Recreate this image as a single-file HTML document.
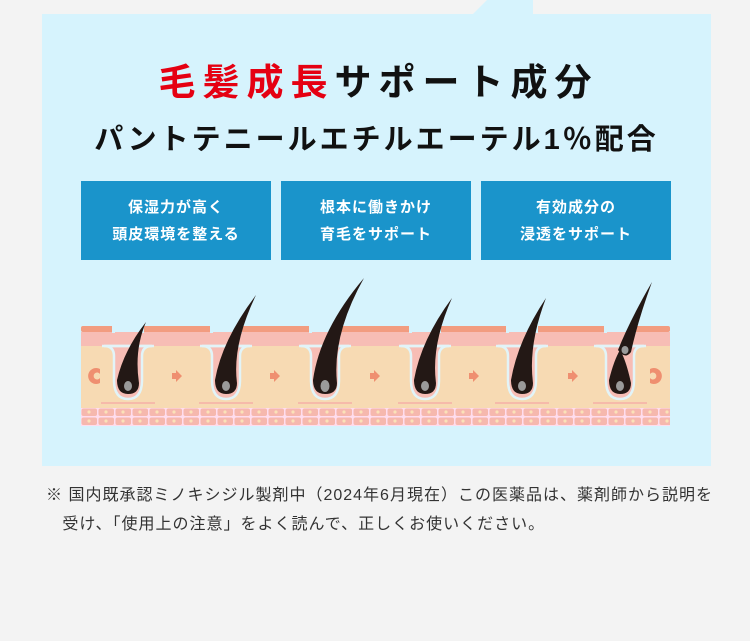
<!DOCTYPE html><html><head><meta charset="utf-8"><style>
body{margin:0;width:750px;height:641px;background:#f3f3f3;position:relative;overflow:hidden;font-family:"Liberation Sans","Noto Sans CJK JP",sans-serif}
.panel{position:absolute;left:42px;top:14px;width:669px;height:452px;background:#d6f3fd}
.tab{position:absolute;left:0;top:0}
.t1{position:absolute;left:0;width:750px;top:52px;text-align:center;font-size:37px;font-weight:bold;letter-spacing:7px;text-indent:7px;color:#111}
.t1 span{color:#e50012}
.t2{position:absolute;left:0;width:750px;top:116px;text-align:center;font-size:29px;font-weight:bold;color:#111;letter-spacing:3px;text-indent:3px}
.b{position:absolute;top:181px;width:190px;height:79px;background:#1a94cb;color:#fff;font-size:15px;font-weight:bold;line-height:27px;text-align:center;padding-top:13px;box-sizing:border-box;letter-spacing:1px}
.n{position:absolute;left:46px;top:481px;font-size:16px;color:#333;line-height:29px;letter-spacing:1px;white-space:nowrap}
</style></head><body>
<svg class="tab" width="750" height="20"><polygon points="473,14 487,0 533,0 533,14" fill="#d6f3fd"/></svg>
<div class="panel"></div>
<div class="t1"><span>毛髪成長</span>サポート成分</div>
<div class="t2">パントテニールエチルエーテル1％配合</div>
<div class="b" style="left:81px">保湿力が高く<br>頭皮環境を整える</div>
<div class="b" style="left:281px">根本に働きかけ<br>育毛をサポート</div>
<div class="b" style="left:481px">有効成分の<br>浸透をサポート</div>
<svg style="position:absolute;left:0;top:0" width="750" height="641">
<defs>
<pattern id="c" x="81" y="408" width="17" height="9" patternUnits="userSpaceOnUse"><rect width="17" height="9" fill="#fde"/><rect x="0.5" y="0.5" width="15.5" height="7.5" rx="2" fill="#f6b8ae"/><circle cx="8" cy="4" r="1.6" fill="#fbe2b8"/></pattern>
<g id="f">
<rect x="-16" y="324" width="32" height="9" fill="#d6f3fd"/>
<rect x="-13" y="332" width="26" height="14" fill="#f7bdb5"/>
<path d="M-24 346 Q-14 346 -14 356 L-14 380 Q-14 399 0 399 Q14 399 14 380 L14 356 Q14 346 24 346 Z" fill="#f7bdb5" stroke="#e2f4f8" stroke-width="2.5"/>
<line x1="-26" y1="346" x2="26" y2="346" stroke="#e2f4f8" stroke-width="2.5"/>
<line x1="-27" y1="403" x2="27" y2="403" stroke="#f5b0a8" stroke-width="1.5"/>
</g>
</defs>
<rect x="81" y="326" width="589" height="6" rx="2" fill="#f29c80"/>
<rect x="81" y="332" width="589" height="14" fill="#f7bdb5"/>
<rect x="81" y="346" width="589" height="62" fill="#f7dab3"/>
<rect x="81" y="408" width="589" height="18" fill="url(#c)"/>
<use href="#f" x="128"/><use href="#f" x="226"/><use href="#f" x="325"/><use href="#f" x="425"/><use href="#f" x="522"/><use href="#f" x="620"/>
<g fill="#231815">
<path d="M117 380 Q124 350 146 322 Q134 350 139 383 Q139 394 128 394 Q117 394 117 380Z"/>
<path d="M215 380 Q222 340 256 295 Q232 345 237 383 Q237 394 226 394 Q215 394 215 380Z"/>
<path d="M313 380 Q320 330 364 278 Q332 335 337 383 Q337 394 325 394 Q313 394 313 380Z"/>
<path d="M414 380 Q421 340 452 298 Q431 345 436 383 Q436 394 425 394 Q414 394 414 380Z"/>
<path d="M511 380 Q518 340 546 298 Q528 345 533 383 Q533 394 522 394 Q511 394 511 380Z"/>
<path d="M609 380 Q614 360 620 350 Q626 360 631 383 Q631 394 620 394 Q609 394 609 380Z"/>
<path d="M618 350 Q630 320 652 282 Q638 320 631 352 Q625 360 618 350Z"/>
</g>
<g fill="#9a9a9a">
<ellipse cx="128" cy="386" rx="4" ry="5"/><ellipse cx="226" cy="386" rx="4" ry="5"/><ellipse cx="325" cy="386" rx="4.5" ry="6"/><ellipse cx="425" cy="386" rx="4" ry="5"/><ellipse cx="522" cy="386" rx="4" ry="5"/><ellipse cx="620" cy="386" rx="4" ry="5"/>
<ellipse cx="625" cy="350" rx="3.5" ry="4"/>
</g>
<path d="M100 369 a8 8 0 1 0 0 14 l0 -5 a3.5 3.5 0 1 1 0 -4z" fill="#ef8f70"/>
<path d="M650 369 a8 8 0 1 1 0 14 l0 -5 a3.5 3.5 0 1 0 0 -4z" fill="#ef8f70"/>
<g fill="#ef8f70">
<path d="M172 373 h4 v-3 l6 6 l-6 6 v-3 h-4z"/><path d="M270 373 h4 v-3 l6 6 l-6 6 v-3 h-4z"/><path d="M370 373 h4 v-3 l6 6 l-6 6 v-3 h-4z"/><path d="M469 373 h4 v-3 l6 6 l-6 6 v-3 h-4z"/><path d="M568 373 h4 v-3 l6 6 l-6 6 v-3 h-4z"/>
</g>
</svg>
<div class="n">※ 国内既承認ミノキシジル製剤中（2024年6月現在）この医薬品は、薬剤師から説明を<br>&nbsp;&nbsp;&nbsp;受け、「使用上の注意」をよく読んで、正しくお使いください。</div>
</body></html>
